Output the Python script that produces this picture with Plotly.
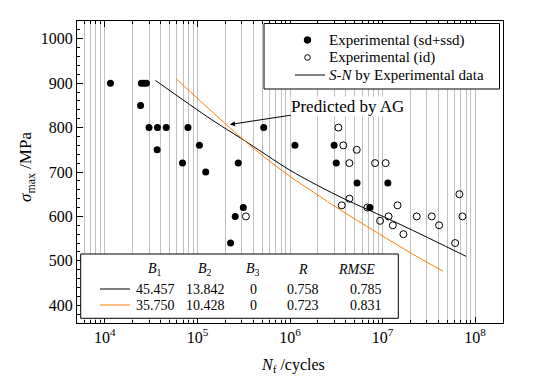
import math
import plotly.graph_objects as go

# ---------------- data ----------------
sd_N = [1.15e4, 2.48e4, 2.64e4, 2.81e4, 2.43e4, 3.0e4, 3.7e4, 4.6e4, 7.9e4, 5.2e5,
        3.67e4, 1.05e5, 6.9e4, 2.76e5, 1.23e5, 1.13e6, 3.13e5, 2.56e5, 2.28e5,
        3.0e6, 3.16e6, 5.3e6, 1.14e7, 7.3e6]
sd_S = [900, 900, 900, 900, 850, 800, 800, 800, 800, 800,
        750, 760, 720, 720, 700, 760, 620, 600, 540,
        760, 720, 675, 675, 620]

id_N = [3.34e5, 3.33e6, 3.77e6, 5.26e6, 4.38e6, 8.3e6, 1.08e7, 4.38e6, 3.62e6, 6.86e6,
        1.45e7, 1.16e7, 9.4e6, 1.29e7, 1.68e7, 2.34e7, 3.4e7, 4.08e7, 6.08e7, 6.76e7, 7.3e7]
id_S = [600, 800, 760, 750, 720, 720, 720, 640, 625, 620,
        625, 600, 590, 580, 560, 600, 600, 580, 540, 650, 600]

exp_N = [3.53e4, 1.42e5, 3.0e5, 1.0e6, 1.64e6, 3.48e6, 1.55e7, 8.0e7]
exp_S = [906, 818, 775, 704, 679, 644, 582, 510]

ag_N = [5.9e4, 3.7e5, 1.0e6, 1.64e6, 3.48e6, 2.12e7, 4.48e7]
ag_S = [910, 760, 690, 660, 615, 515, 477]

x_tick_vals = [1e4, 1e5, 1e6, 1e7, 1e8]
x_tick_text = ["10<sup>4</sup>", "10<sup>5</sup>", "10<sup>6</sup>", "10<sup>7</sup>", "10<sup>8</sup>"]
y_tick_vals = [400, 500, 600, 700, 800, 900, 1000]

legend_names = ["Experimental (sd+ssd)", "Experimental (id)", "<i>S-N</i> by Experimental data"]

tbl_headers = ["<i>B</i><sub>1</sub>", "<i>B</i><sub>2</sub>", "<i>B</i><sub>3</sub>", "<i>R</i>", "<i>RMSE</i>"]
tbl_B1 = ["45.457", "35.750"]
tbl_B2 = ["13.842", "10.428"]
tbl_B3 = ["0", "0"]
tbl_R = ["0.758", "0.723"]
tbl_RMSE = ["0.785", "0.831"]

ann_N, ann_S = 2.245e5, 807

# ---------------- styling ----------------
FONT = "Liberation Serif, Times New Roman, Times, serif"
ORANGE = "#FF8000"
GRID = "#C0C0C0"
L, R, T, B = 77, 44, 21, 60
W, H = 547, 383
PW, PH = W - L - R, H - T - B


def PX(x):
    return (x - L) / PW


def PY(y):
    return 1 - (y - T) / PH


minor_vals = [m * 10 ** e for e in range(3, 9) for m in range(2, 10)
              if 5e3 <= m * 10 ** e <= 2e8]

fig = go.Figure()
fig.add_trace(go.Scatter(x=exp_N, y=exp_S, mode="lines", line=dict(color="black", width=1, shape="spline"),
                         name=legend_names[2], showlegend=False))
fig.add_trace(go.Scatter(x=ag_N, y=ag_S, mode="lines", line=dict(color=ORANGE, width=1, shape="spline"),
                         name="Predicted by AG", showlegend=False))
fig.add_trace(go.Scatter(x=sd_N, y=sd_S, mode="markers",
                         marker=dict(symbol="circle", size=7, color="black"),
                         name=legend_names[0], showlegend=False))
fig.add_trace(go.Scatter(x=id_N, y=id_S, mode="markers",
                         marker=dict(symbol="circle-open", size=7, color="black", line=dict(width=1)),
                         name=legend_names[1], showlegend=False))

shapes = []
annotations = []

# ---- legend (frame, symbols, labels) ----
shapes.append(dict(type="rect", xref="paper", yref="paper", x0=PX(264), x1=PX(499.5), y0=PY(89), y1=PY(23.5),
                   line=dict(color="black", width=1), fillcolor="white", layer="above"))
leg_rows = [40, 57.5, 75]
sx = 307.5
shapes.append(dict(type="circle", xref="paper", yref="paper", x0=PX(sx - 3.3), x1=PX(sx + 3.3),
                   y0=PY(leg_rows[0] + 3.3), y1=PY(leg_rows[0] - 3.3),
                   line=dict(color="black", width=1), fillcolor="black", layer="above"))
shapes.append(dict(type="circle", xref="paper", yref="paper", x0=PX(sx - 2.8), x1=PX(sx + 2.8),
                   y0=PY(leg_rows[1] + 2.8), y1=PY(leg_rows[1] - 2.8),
                   line=dict(color="black", width=1), fillcolor="white", layer="above"))
shapes.append(dict(type="line", xref="paper", yref="paper", x0=PX(295), x1=PX(325),
                   y0=PY(leg_rows[2]), y1=PY(leg_rows[2]),
                   line=dict(color="black", width=1), layer="above"))
for ly, lt in zip(leg_rows, legend_names):
    annotations.append(dict(xref="paper", yref="paper", x=PX(327), y=PY(ly), text=lt, showarrow=False,
                            font=dict(family=FONT, size=15, color="black"), xanchor="left", yanchor="middle"))

# ---- parameter table ----
shapes.append(dict(type="rect", xref="paper", yref="paper", x0=PX(80.7), x1=PX(398.3), y0=PY(318.3), y1=PY(254),
                   line=dict(color="black", width=1), fillcolor="white", layer="above"))
row_y = [289, 305]
row_col = ["black", ORANGE]
for ry, rc in zip(row_y, row_col):
    shapes.append(dict(type="line", xref="paper", yref="paper", x0=PX(100), x1=PX(130), y0=PY(ry), y1=PY(ry),
                       line=dict(color=rc, width=1), layer="above"))

col_x = [155, 205, 253, 303, 356]
for hx, ht in zip(col_x, tbl_headers):
    annotations.append(dict(xref="paper", yref="paper", x=PX(hx), y=PY(269), text=ht, showarrow=False,
                            font=dict(family=FONT, size=14, color="black"), xanchor="center", yanchor="middle"))
val_x = [155, 205, 253, 303, 366]
for i, ry in enumerate(row_y):
    for vx, col in zip(val_x, [tbl_B1, tbl_B2, tbl_B3, tbl_R, tbl_RMSE]):
        annotations.append(dict(xref="paper", yref="paper", x=PX(vx), y=PY(ry), text=col[i], showarrow=False,
                                font=dict(family=FONT, size=14, color="black"), xanchor="center", yanchor="middle"))

# ---- arrow annotation ----
annotations.append(dict(x=math.log10(ann_N), y=ann_S, xref="x", yref="y", text="Predicted by AG",
                        showarrow=True, arrowhead=2, arrowsize=1, arrowwidth=1, arrowcolor="black",
                        ax=118, ay=-18, bgcolor="white", borderpad=0,
                        font=dict(family=FONT, size=17, color="black")))
# ---- axis titles ----
annotations.append(dict(xref="paper", yref="paper", x=PX(293), y=PY(365), text="<i>N</i><sub>f</sub> /cycles",
                        showarrow=False, font=dict(family=FONT, size=16, color="black"),
                        xanchor="center", yanchor="middle"))
annotations.append(dict(xref="paper", yref="paper", x=PX(27), y=PY(167), text="<i>σ</i><sub>max</sub> /MPa",
                        showarrow=False, textangle=-90, font=dict(family=FONT, size=17, color="black"),
                        xanchor="center", yanchor="middle"))

fig.update_layout(
    width=W, height=H,
    margin=dict(l=L, r=R, t=T, b=B, autoexpand=False),
    paper_bgcolor="white", plot_bgcolor="white",
    font=dict(family=FONT, size=15, color="black"),
    showlegend=False,
    hovermode=False,
    shapes=shapes,
    annotations=annotations,
    xaxis=dict(type="log", range=[math.log10(5e3), math.log10(2e8)],
               tickvals=x_tick_vals, ticktext=x_tick_text,
               ticks="inside", ticklen=6, tickcolor="black", tickwidth=1,
               showgrid=True, gridcolor=GRID, gridwidth=1,
               showline=True, linecolor="black", linewidth=1, mirror="ticks",
               zeroline=False, automargin=False,
               tickfont=dict(family=FONT, size=16, color="black"),
               minor=dict(tickvals=minor_vals, ticks="inside", ticklen=3, tickcolor="black",
                          showgrid=True, gridcolor=GRID, gridwidth=1)),
    yaxis=dict(range=[360, 1040], tickvals=y_tick_vals,
               ticks="inside", ticklen=6, tickcolor="black", tickwidth=1,
               showgrid=False, showline=True, linecolor="black", linewidth=1, mirror=True,
               zeroline=False, automargin=False,
               tickfont=dict(family=FONT, size=16, color="black"),
               minor=dict(dtick=20, ticks="inside", ticklen=3, tickcolor="black", showgrid=False)),
)

fig.write_html("out.html", config={"displayModeBar": False},
               post_script="document.body.style.margin='0px';document.body.style.padding='0px';")
